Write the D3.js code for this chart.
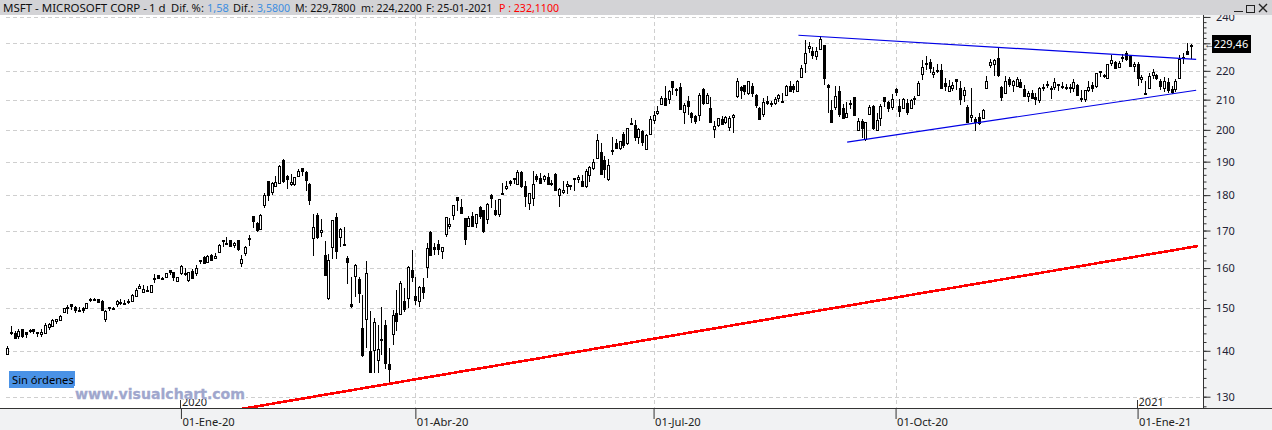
<!DOCTYPE html>
<html>
<head>
<meta charset="utf-8">
<script src="https://cdn.jsdelivr.net/npm/d3@7"></script>
<style>
  html, body { margin: 0; padding: 0; background: #fff; overflow: hidden; }
  svg { display: block; font-family: "Noto Sans", sans-serif; }
</style>
</head>
<body>
<script>
// MSFT daily candles, oct-2019 to 25-ene-2021, one row per month
var opens = [
  139.34,144.40,144.01,143.52,144.90,
  144.26,144.83,144.97,144.37,143.84,143.98,145.34,145.74,146.74,147.02,148.93,150.07,150.88,150.31,149.40,150.07,150.00,152.33,152.10,152.10,
  151.81,147.49,150.14,150.05,150.99,151.07,151.29,151.54,151.65,153.00,155.11,154.00,154.30,154.00,157.35,158.12,157.48,157.56,159.45,158.99,156.77,
  158.78,158.32,157.08,159.32,158.93,161.84,162.82,161.76,163.39,162.62,164.35,167.42,166.68,167.40,166.19,167.51,161.15,163.78,167.84,174.05,172.21,
  170.43,177.14,184.03,180.97,182.85,183.58,190.65,185.58,183.08,183.25,185.61,188.06,186.95,183.17,167.77,174.20,169.71,163.32,152.41,
  165.31,173.80,168.49,166.05,162.61,151.00,158.16,157.13,145.30,147.50,140.00,140.00,138.00,142.77,146.00,137.01,143.75,148.91,148.40,151.75,152.44,159.40,
  153.00,151.86,155.10,160.32,169.59,165.67,166.36,164.35,169.00,171.20,174.30,179.50,176.63,173.50,171.39,174.11,172.06,176.59,175.59,173.22,180.00,
  175.80,174.49,180.62,182.08,184.17,184.98,183.15,186.80,182.55,177.54,179.06,185.75,185.03,184.81,185.40,183.19,186.34,180.20,180.74,182.73,
  182.54,184.81,184.82,184.30,182.62,185.94,188.00,191.13,193.13,190.54,184.58,193.48,195.79,194.00,198.59,195.79,202.09,201.60,197.80,199.73,193.97,198.51,
  203.14,205.68,208.83,210.45,210.07,216.33,213.62,214.48,206.13,209.56,205.40,204.47,205.00,213.66,209.20,207.19,200.42,201.47,203.61,202.50,201.00,204.40,
  211.52,214.17,214.90,212.34,214.85,211.67,207.16,205.30,209.44,208.76,208.77,210.53,209.54,211.43,214.79,214.79,213.10,217.88,222.89,228.18,227.00,
  225.51,227.97,229.27,215.10,206.50,207.60,213.00,207.20,204.24,208.42,210.95,200.05,202.80,197.19,205.06,207.90,199.85,203.90,210.88,209.35,207.73,
  213.49,208.00,207.22,208.82,207.06,210.51,211.67,218.79,222.72,223.00,218.85,220.15,220.42,215.80,213.12,213.93,217.10,213.85,211.59,207.67,204.07,203.50,
  204.29,203.89,214.02,222.04,222.26,224.45,214.50,212.39,217.21,215.01,214.87,216.10,213.65,211.38,212.20,210.95,209.59,214.27,214.87,214.10,
  214.51,215.20,214.61,214.22,214.37,213.97,215.16,210.41,210.05,213.10,215.17,214.75,219.87,218.59,217.55,222.69,223.11,221.42,224.45,226.31,225.23,221.70,
  222.53,217.26,212.17,214.04,218.68,218.47,216.50,214.02,215.91,213.52,213.75,217.70,224.70,227.08,229.12
];
var highs = [
  141.14,145.67,144.50,145.00,144.93,
  144.42,145.00,145.02,144.37,145.00,146.42,146.42,147.46,147.46,148.41,150.00,150.84,150.88,150.60,150.30,150.19,151.35,152.50,152.49,152.30,
  152.00,149.43,150.18,150.32,151.87,152.21,151.89,152.21,153.44,154.89,155.90,155.71,155.48,155.77,158.49,158.12,157.71,158.73,159.55,159.02,157.77,
  160.73,159.95,159.10,159.67,160.80,162.22,163.22,163.31,163.60,163.94,166.24,167.47,168.19,167.49,166.80,167.53,163.38,165.76,168.75,174.05,172.40,
  174.50,180.64,184.20,183.82,185.63,188.84,190.70,185.85,186.23,185.41,187.70,188.18,187.25,183.50,174.55,174.84,173.26,167.03,163.71,
  172.92,175.00,170.70,170.87,163.11,157.75,161.03,157.70,153.11,161.91,149.35,147.50,146.00,150.15,147.10,140.57,149.60,154.33,156.66,154.89,160.60,164.78,
  157.75,155.48,157.38,166.50,170.00,166.67,167.37,165.57,173.75,173.57,177.22,179.50,178.75,173.37,174.00,175.06,174.55,176.90,175.67,177.68,180.40,
  178.64,179.00,183.65,184.20,184.55,185.00,187.51,187.04,184.05,180.69,187.06,186.20,186.60,185.85,186.67,184.46,186.50,181.99,184.15,184.27,
  183.00,185.00,185.94,185.84,187.73,188.55,190.89,198.52,195.76,191.72,190.82,197.59,197.00,196.49,199.29,200.76,203.95,203.25,200.61,199.89,198.53,204.40,
  206.35,208.02,211.13,214.67,213.26,216.38,214.08,215.80,208.85,211.33,205.70,204.90,212.30,213.94,212.30,210.92,202.86,203.97,204.46,204.65,204.46,205.10,
  217.64,214.77,215.00,216.37,215.70,211.85,207.65,210.48,211.35,209.59,210.93,211.99,212.40,215.00,216.25,215.52,216.61,222.09,231.15,230.65,228.70,
  228.45,232.86,229.31,215.42,210.03,214.84,214.74,208.50,209.20,209.78,210.95,204.00,203.65,202.71,208.10,208.10,205.57,208.57,210.96,209.44,211.98,
  213.99,210.19,210.41,210.18,210.11,211.19,216.28,223.86,225.21,224.22,221.20,222.28,222.30,217.37,216.92,216.06,216.28,216.34,214.28,208.16,213.92,204.29,
  205.52,206.70,218.32,224.12,224.36,228.30,214.77,218.04,217.75,216.82,217.74,217.18,215.17,212.99,213.28,212.29,214.25,215.29,216.27,214.76,
  217.32,215.47,216.00,215.38,215.54,216.95,215.23,213.32,213.32,216.26,215.90,219.36,220.00,219.00,222.59,225.63,223.56,223.61,226.03,227.18,225.63,223.00,
  223.00,218.52,216.49,219.34,220.58,218.91,217.10,217.76,217.46,214.51,216.98,225.79,226.30,230.07,229.78
];
var lows = [
  139.20,143.51,142.65,142.79,142.99,
  142.97,144.16,143.91,143.05,143.21,143.83,144.73,145.68,146.30,147.00,148.82,148.46,149.49,148.82,149.22,148.82,149.92,151.52,151.70,151.28,
  149.34,146.65,149.20,149.48,150.33,150.80,150.76,151.02,151.40,152.83,154.82,154.45,154.18,153.75,156.29,157.27,157.12,157.40,158.22,156.73,156.45,
  158.33,158.06,156.51,157.32,157.95,161.03,161.18,161.26,161.72,162.57,164.03,165.43,166.43,165.69,165.27,164.45,160.20,163.07,165.69,170.83,169.58,
  170.40,176.31,178.41,180.06,182.48,183.25,183.58,181.85,182.71,182.62,185.50,185.50,181.10,177.25,163.23,167.65,168.21,158.09,152.00,
  162.31,162.26,165.62,165.69,156.00,150.00,152.58,151.15,138.58,140.73,135.00,135.00,135.03,139.00,135.86,132.52,141.27,144.44,148.37,149.00,150.01,156.56,
  150.82,150.36,152.19,157.58,163.26,163.50,163.33,162.30,168.14,170.30,172.90,175.35,174.99,166.11,170.91,170.91,170.73,173.30,169.39,171.88,176.23,
  174.01,173.80,179.90,181.63,182.58,183.36,182.85,182.20,176.54,175.68,177.00,183.96,183.50,183.94,183.01,182.54,181.10,176.60,180.38,180.41,
  181.46,181.35,183.58,182.30,182.01,183.95,187.32,191.13,186.07,185.18,184.01,191.95,193.81,193.75,194.37,195.23,201.43,196.56,195.47,194.88,193.55,198.51,
  201.77,205.00,208.09,207.99,208.69,211.47,211.08,206.50,202.03,205.02,202.31,201.92,203.01,208.03,208.39,202.15,197.51,200.94,202.01,202.01,199.57,199.01,
  210.44,210.31,211.57,211.55,210.93,207.09,203.14,204.30,208.15,207.51,208.24,209.24,208.71,211.20,212.85,212.43,213.10,217.36,219.40,226.58,224.31,
  224.02,227.35,214.96,205.50,202.20,206.68,204.11,203.60,204.03,206.93,205.00,199.57,197.51,196.38,205.00,200.03,199.62,201.24,207.64,205.85,206.54,
  211.32,204.16,206.98,204.76,207.11,208.28,211.30,216.81,220.43,219.13,217.45,219.32,213.72,213.09,213.12,212.81,213.16,208.10,209.32,202.60,202.72,199.62,
  201.74,203.89,213.65,221.10,218.03,217.88,209.50,211.88,214.18,212.47,214.52,214.08,210.83,209.11,210.12,208.16,208.86,212.97,214.04,210.32,
  213.35,212.88,213.65,213.28,212.24,212.71,211.21,209.11,209.11,212.50,212.50,214.02,217.73,217.50,217.28,221.85,220.80,221.20,223.02,223.58,221.47,219.68,
  214.81,215.70,211.94,213.71,217.03,216.73,213.32,212.63,212.29,212.03,212.63,217.29,222.42,225.80,224.22
];
var closes = [
  140.73,144.19,142.83,144.61,143.37,
  143.72,144.55,144.46,144.06,144.26,145.96,146.11,147.07,147.31,148.06,149.97,150.34,150.39,149.62,149.48,149.59,151.23,152.03,152.32,151.38,
  149.55,149.31,149.85,149.93,151.75,151.36,151.13,151.70,153.24,154.53,155.53,154.69,154.37,155.71,157.41,157.41,157.38,158.67,158.96,157.59,157.70,
  160.62,158.62,159.03,157.58,160.09,162.09,161.34,163.28,162.13,163.18,166.17,167.10,166.50,165.70,166.72,165.04,162.28,165.46,168.04,172.78,170.23,
  174.38,180.12,179.90,183.63,183.89,188.70,184.44,184.71,183.71,185.35,187.23,187.28,184.42,178.59,170.89,168.07,170.17,158.18,162.01,
  172.79,164.51,170.55,166.27,161.57,150.62,160.92,153.63,139.06,158.83,135.42,146.57,140.40,142.71,137.35,135.98,148.34,146.92,156.11,149.70,160.23,157.71,
  152.11,155.26,153.83,165.27,163.49,165.13,165.14,165.51,173.70,171.88,177.04,178.60,175.06,167.82,173.52,171.42,174.55,174.05,169.81,177.43,179.21,
  174.57,178.84,180.76,182.54,183.60,184.68,186.74,182.51,179.75,180.53,183.16,184.91,183.63,185.66,183.43,183.51,181.57,181.81,181.40,183.25,
  182.83,184.91,185.36,182.92,187.20,188.36,189.80,196.84,186.27,187.74,188.94,193.57,194.24,196.32,195.15,200.57,201.91,197.84,200.34,196.33,198.44,203.51,
  204.70,206.26,210.70,208.25,212.83,214.32,213.67,207.07,208.35,208.04,203.92,202.88,211.60,208.75,211.75,202.54,201.30,203.85,202.02,204.06,203.90,205.01,
  216.54,213.29,212.94,216.35,212.48,208.25,203.38,209.19,208.70,208.90,210.28,211.49,209.70,214.58,213.02,213.69,216.47,221.15,226.58,228.91,225.53,
  227.27,231.65,217.30,214.25,202.66,211.29,205.37,204.03,205.41,208.78,205.05,202.91,200.39,202.54,207.42,200.59,203.19,207.82,209.44,207.26,210.33,
  212.46,206.19,210.38,205.91,209.83,210.58,215.81,221.40,222.86,220.86,219.66,219.66,214.22,214.65,214.80,214.89,216.23,210.08,213.25,202.68,204.72,202.47,
  202.33,206.43,216.39,223.29,223.72,218.39,211.01,216.55,215.44,216.51,217.23,214.46,211.08,212.42,210.39,210.11,213.86,213.87,215.23,214.07,
  216.21,215.37,214.24,214.36,214.29,216.01,211.80,210.52,213.26,214.20,214.13,219.28,219.42,218.59,222.59,223.94,221.02,222.75,224.96,224.15,221.68,222.42,
  217.69,217.90,212.25,218.29,219.62,217.49,214.93,216.34,213.02,212.65,216.44,224.34,224.97,225.95,229.53
];

// bar index of each date label
var dateTicks = [46, 108, 171, 235, 299];
var dateLabels = ["01-Ene-20", "01-Abr-20", "01-Jul-20", "01-Oct-20", "01-Ene-21"];
var yearTicks = [46, 299];
var yearLabels = ["2020", "2021"];
var gridDates = [108, 171, 235];

var priceTicks = d3.range(130, 241, 10);
var minorTicks = d3.range(128, 241, 2);

// trend lines: [bar index, price]
var redLine = [[61.6, 127.4], [315, 165.8]];
var blueUpper = [[209.3, 233], [314.5, 224.1]];
var blueLower = [[222.2, 196.1], [314.5, 213.2]];

var lastPrice = "229,46";
var width = 1272, height = 430;
var plotRight = 1203, plotBottom = 408, headerH = 15;

var svg = d3.select("body").append("svg")
  .attr("width", width)
  .attr("height", height);

var x = d3.scaleLinear().domain([0, 313]).range([7, 1190.5]);
var y = d3.scaleLog().domain([130, 230]).range([396.7, 43.3]);

// axis panels
svg.append("rect").attr("x", plotRight).attr("y", 0).attr("width", width - plotRight).attr("height", height).attr("fill", "#f1f2f3");
svg.append("rect").attr("x", 0).attr("y", plotBottom).attr("width", width).attr("height", height - plotBottom).attr("fill", "#f1f2f3");

// grid
svg.append("g").selectAll("line").data(priceTicks).enter().append("line")
  .attr("x1", 6).attr("x2", plotRight)
  .attr("y1", function(d){ return Math.round(y(d)) + 0.5; })
  .attr("y2", function(d){ return Math.round(y(d)) + 0.5; })
  .attr("stroke", "#cfcfcf")
  .attr("stroke-dasharray", "4,3");
svg.append("g").selectAll("line").data(gridDates).enter().append("line")
  .attr("x1", function(d){ return Math.round(x(d)) + 0.5; })
  .attr("x2", function(d){ return Math.round(x(d)) + 0.5; })
  .attr("y1", headerH).attr("y2", plotBottom)
  .attr("stroke", "#cfcfcf")
  .attr("stroke-dasharray", "4,3");

// candles
var bars = d3.range(closes.length);
var candles = svg.append("g").attr("shape-rendering", "crispEdges");
candles.selectAll("line").data(bars).enter().append("line")
  .attr("x1", function(i){ return Math.round(x(i)) + 0.5; })
  .attr("x2", function(i){ return Math.round(x(i)) + 0.5; })
  .attr("y1", function(i){ return y(highs[i]); })
  .attr("y2", function(i){ return y(lows[i]); })
  .attr("stroke", "#000");
candles.selectAll("rect").data(bars).enter().append("rect")
  .attr("x", function(i){ return Math.round(x(i)) - 0.5; })
  .attr("width", 2)
  .attr("y", function(i){ return Math.round(y(Math.max(opens[i], closes[i]))) + 0.5; })
  .attr("height", function(i){ return Math.max(1, Math.round(Math.abs(y(opens[i]) - y(closes[i])))); })
  .attr("fill", function(i){ return closes[i] >= opens[i] ? "#fff" : "#000"; })
  .attr("stroke", "#000");

// trend lines
var line = d3.line()
  .x(function(d){ return x(d[0]); })
  .y(function(d){ return y(d[1]); });
svg.append("path").attr("d", line(redLine)).attr("fill", "none").attr("stroke", "#f00").attr("stroke-width", 2.6).attr("shape-rendering", "crispEdges");
svg.append("path").attr("d", line(blueUpper)).attr("fill", "none").attr("stroke", "#0000e6").attr("stroke-width", 1.2);
svg.append("path").attr("d", line(blueLower)).attr("fill", "none").attr("stroke", "#0000e6").attr("stroke-width", 1.2);

// cover whatever runs below the plot
svg.append("rect").attr("x", 0).attr("y", plotBottom).attr("width", width).attr("height", height - plotBottom).attr("fill", "#f1f2f3");

// price axis, 230 sits under the last price tag
var yAxis = d3.axisRight(y).tickValues(priceTicks).tickSize(7).tickPadding(3)
  .tickFormat(function(d){ return d === 230 ? "" : d; });
var yg = svg.append("g").attr("transform", "translate(" + (plotRight + 0.5) + ",0)").call(yAxis);
yg.select(".domain").remove();
yg.selectAll("text").attr("font-family", "Noto Sans").attr("font-size", 11).attr("fill", "#223").attr("dx", 2.5);
yg.selectAll("line").attr("stroke", "#333");
svg.append("g").attr("transform", "translate(" + (plotRight + 0.5) + ",0)")
  .call(d3.axisRight(y).tickValues(minorTicks).tickSize(3).tickFormat(""))
  .call(function(g){ g.select(".domain").remove(); g.selectAll("line").attr("stroke", "#333"); });
svg.append("line").attr("x1", plotRight + 0.5).attr("x2", plotRight + 0.5).attr("y1", headerH).attr("y2", plotBottom).attr("stroke", "#333");

// date axis
svg.append("line").attr("x1", 0).attr("x2", width).attr("y1", plotBottom + 0.5).attr("y2", plotBottom + 0.5).attr("stroke", "#333");
var xAxis = d3.axisBottom(x).tickValues(dateTicks).tickSize(11).tickPadding(0)
  .tickFormat(function(d, i){ return dateLabels[i]; });
var xg = svg.append("g").attr("transform", "translate(0," + plotBottom + ")").call(xAxis);
xg.select(".domain").remove();
xg.selectAll("line").attr("stroke", "#333");
xg.selectAll("text")
  .attr("font-family", "Noto Sans").attr("font-size", 11.2).attr("fill", "#222")
  .attr("text-anchor", "start").attr("x", 1).attr("y", 10).attr("dy", "0.71em");

// year marks
svg.append("g").selectAll("line").data(yearTicks).enter().append("line")
  .attr("x1", function(d){ return Math.round(x(d)) - 0.5; })
  .attr("x2", function(d){ return Math.round(x(d)) - 0.5; })
  .attr("y1", 400).attr("y2", plotBottom)
  .attr("stroke", "#333");
svg.append("g").selectAll("text").data(yearTicks).enter().append("text")
  .attr("x", function(d){ return x(d) + 1; })
  .attr("y", 406)
  .attr("font-size", 11).attr("fill", "#222")
  .text(function(d, i){ return yearLabels[i]; });

// order tag and watermark
svg.append("rect").attr("x", 9).attr("y", 371).attr("width", 66).attr("height", 17).attr("fill", "#4a92e6");
svg.append("text").attr("x", 12).attr("y", 384).attr("font-size", 11.2).attr("fill", "#000").text("Sin órdenes");
svg.append("rect").attr("x", 74).attr("y", 386).attr("width", 172).attr("height", 13).attr("fill", "#fff");
svg.append("text").attr("x", 75).attr("y", 399)
  .attr("font-family", "DejaVu Sans").attr("font-weight", "bold").attr("font-size", 14.1)
  .attr("fill", "#a0a7cd").attr("stroke", "#a0a7cd").attr("stroke-width", 0.3).text("www.visualchart.com");

// last price tag
svg.append("text").attr("x", 1204).attr("y", 48).attr("font-size", 11).attr("fill", "#333").text("←");
svg.append("rect").attr("x", 1212).attr("y", 35).attr("width", 39).attr("height", 18).attr("fill", "#000");
svg.append("text").attr("x", 1231).attr("y", 48).attr("text-anchor", "middle").attr("font-size", 11).attr("fill", "#fff").text(lastPrice);

// header
var headerItems = [
  { x: 3, text: "MSFT - MICROSOFT CORP -", fill: "#111", size: 11.5 },
  { x: 149, text: "1 d", fill: "#111", size: 11.5 },
  { x: 171, text: "Dif. %:", fill: "#111", size: 11.2 },
  { x: 207, text: "1,58", fill: "#3f8fe0", size: 11 },
  { x: 233, text: "Dif.:", fill: "#111", size: 11 },
  { x: 257, text: "3,5800", fill: "#3f8fe0", size: 10.6 },
  { x: 295, text: "M: 229,7800", fill: "#111", size: 10.6 },
  { x: 361, text: "m: 224,2200", fill: "#111", size: 10.6 },
  { x: 426, text: "F: 25-01-2021", fill: "#111", size: 10.6 },
  { x: 499, text: "P : 232,1100", fill: "#f00", size: 10.6 }
];
svg.append("rect").attr("width", width).attr("height", headerH).attr("fill", "#d3d3d6");
svg.append("g").selectAll("text").data(headerItems).enter().append("text")
  .attr("x", function(d){ return d.x; })
  .attr("y", 11.5)
  .attr("font-size", function(d){ return d.size; })
  .attr("fill", function(d){ return d.fill; })
  .text(function(d){ return d.text; });

// window buttons
var btn = svg.append("g").attr("stroke", "#222").attr("fill", "none").attr("shape-rendering", "crispEdges");
btn.append("line").attr("x1", 1234).attr("x2", 1243).attr("y1", 11.5).attr("y2", 11.5).attr("stroke-width", 1);
btn.append("rect").attr("x", 1246.5).attr("y", 5.5).attr("width", 8).attr("height", 7);
btn.append("path").attr("d", "M1259,4L1267,12M1267,4L1259,12").attr("shape-rendering", "auto").attr("stroke-width", 1.4);
</script>
</body>
</html>
